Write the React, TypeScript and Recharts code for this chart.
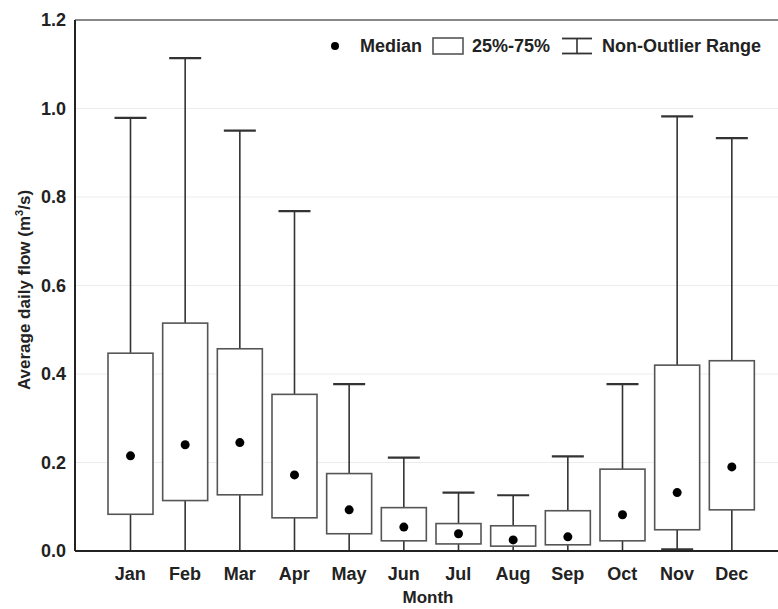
import React from 'react';
import { ComposedChart, Bar, XAxis, YAxis, CartesianGrid, ReferenceLine } from 'recharts';

const months = ['Jan', 'Feb', 'Mar', 'Apr', 'May', 'Jun', 'Jul', 'Aug', 'Sep', 'Oct', 'Nov', 'Dec'];
const whiskerLow = [0, 0, 0, 0, 0, 0, 0, 0, 0, 0, 0.004, 0];
const quartile1 = [0.083, 0.114, 0.127, 0.075, 0.039, 0.023, 0.016, 0.011, 0.014, 0.023, 0.048, 0.093];
const medians = [0.215, 0.24, 0.245, 0.172, 0.093, 0.054, 0.039, 0.025, 0.032, 0.082, 0.132, 0.19];
const quartile3 = [0.447, 0.515, 0.457, 0.354, 0.175, 0.098, 0.062, 0.057, 0.091, 0.185, 0.42, 0.43];
const whiskerHigh = [0.979, 1.114, 0.95, 0.768, 0.377, 0.211, 0.132, 0.126, 0.214, 0.377, 0.982, 0.933];
const yTicks = [0, 0.2, 0.4, 0.6, 0.8, 1.0, 1.2];

const data = months.map((m, i) => ({
  month: m,
  min: whiskerLow[i],
  q1: quartile1[i],
  median: medians[i],
  q3: quartile3[i],
  max: whiskerHigh[i],
}));

const FONT = '"Liberation Sans", Arial, Helvetica, sans-serif';

const BoxShape = (props: any) => {
  const { x, y, width, height } = props;
  const p = props.payload ?? props;
  const { min, max, q1, median, q3 } = p;
  const toY = (v: number) => y + height - ((v - min) / (max - min)) * height;
  const cx = x + width / 2;
  const capHalf = 16;
  const yMax = toY(max);
  const yMin = toY(min);
  const yQ1 = toY(q1);
  const yQ3 = toY(q3);
  const yMed = toY(median);
  return (
    <g>
      <line x1={cx} x2={cx} y1={yMax} y2={yQ3} stroke="#333" strokeWidth={1.6} />
      <line x1={cx} x2={cx} y1={yQ1} y2={yMin} stroke="#333" strokeWidth={1.6} />
      <line x1={cx - capHalf} x2={cx + capHalf} y1={yMax} y2={yMax} stroke="#333" strokeWidth={2.2} />
      <line x1={cx - capHalf} x2={cx + capHalf} y1={yMin} y2={yMin} stroke="#333" strokeWidth={2.2} />
      <rect x={x} y={yQ3} width={width} height={yQ1 - yQ3} fill="#fff" stroke="#555" strokeWidth={1.6} />
      <circle cx={cx} cy={yMed} r={4.5} fill="#000" />
    </g>
  );
};

const YLabel = () => (
  <text
    x={30}
    y={290}
    transform="rotate(-90, 30, 290)"
    textAnchor="middle"
    fontFamily={FONT}
    fontWeight="bold"
    fontSize={17}
    fill="#222"
  >
    Average daily flow (m
    <tspan dy={-7} fontSize={11}>3</tspan>
    <tspan dy={7}>/s)</tspan>
  </text>
);

const XLabel = () => (
  <text x={428} y={603} textAnchor="middle" fontFamily={FONT} fontWeight="bold" fontSize={17} fill="#222">
    Month
  </text>
);

const LegendOverlay = () => (
  <svg width={778} height={70} style={{ position: 'absolute', left: 0, top: 0, pointerEvents: 'none' }}>
    <g fontFamily={FONT} fontWeight="bold" fontSize={18} fill="#222">
      <circle cx={335} cy={46} r={4} fill="#000" />
      <text x={360} y={52}>Median</text>
      <rect x={433} y={38} width={30} height={16} fill="#fff" stroke="#555" strokeWidth={1.6} />
      <text x={472} y={52}>25%-75%</text>
      <line x1={562} x2={592} y1={38.5} y2={38.5} stroke="#333" strokeWidth={1.8} />
      <line x1={562} x2={592} y1={53.5} y2={53.5} stroke="#333" strokeWidth={1.8} />
      <line x1={577} x2={577} y1={38.5} y2={53.5} stroke="#333" strokeWidth={1.6} />
      <text x={602} y={52}>Non-Outlier Range</text>
    </g>
  </svg>
);

export default function App() {
  return (
    <div style={{ position: 'absolute', left: 0, top: 0, width: 778, height: 609, background: '#fff' }}>
      <ComposedChart
        width={778}
        height={609}
        data={data}
        margin={{ top: 20, right: 0, bottom: 0, left: 8 }}
      >
        <CartesianGrid horizontal vertical={false} stroke="#ececec" />
        <XAxis
          dataKey="month"
          type="category"
          padding={{ left: 28, right: 19 }}
          height={58}
          tickLine={false}
          tickMargin={10}
          axisLine={{ stroke: '#222', strokeWidth: 2 }}
          tick={{ fontFamily: FONT, fontWeight: 'bold', fontSize: 18, fill: '#222' }}
          label={{ content: () => <XLabel /> }}
        />
        <YAxis
          type="number"
          domain={[0, 1.2]}
          ticks={yTicks}
          width={67}
          tickLine={false}
          tickMargin={3}
          interval={0}
          allowDataOverflow
          axisLine={{ stroke: '#222', strokeWidth: 2 }}
          tickFormatter={(v: number) => v.toFixed(1)}
          tick={{ fontFamily: FONT, fontWeight: 'bold', fontSize: 18, fill: '#222' }}
          label={{ content: () => <YLabel /> }}
        />
        <ReferenceLine y={1.2} stroke="#888" strokeWidth={2} />
        <Bar
          dataKey={(d: any) => [d.min, d.max]}
          barSize={45}
          shape={<BoxShape />}
          isAnimationActive={false}
        />
      </ComposedChart>
      <LegendOverlay />
    </div>
  );
}
